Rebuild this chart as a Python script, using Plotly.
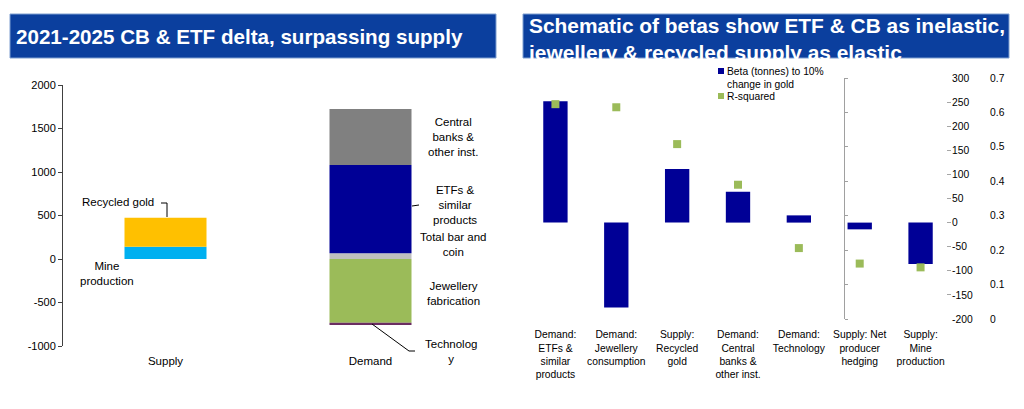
import plotly.graph_objects as go

# ---- data: left chart (tonnes, 2021-2025 delta) ----
left_cats = ["Supply", "Demand"]
left_series = ["Mine production", "Recycled gold", "Total bar and coin",
               "ETFs & similar products", "Central banks & other inst.",
               "Jewellery fabrication", "Technology"]
left_cat_of = ["Supply", "Supply", "Demand", "Demand", "Demand", "Demand", "Demand"]
left_values = [140, 335, 65, 1015, 645, -732, -28]
left_colors = ["#00B0F0", "#FFC000", "#BFBFBF", "#000096", "#808080", "#9BBB59", "#6B2D62"]
left_ticks = [-1000, -500, 0, 500, 1000, 1500, 2000]

# ---- data: right chart (betas) ----
beta_cats = ["Demand:<br>ETFs &<br>similar<br>products",
             "Demand:<br>Jewellery<br>consumption",
             "Supply:<br>Recycled<br>gold",
             "Demand:<br>Central<br>banks &<br>other inst.",
             "Demand:<br>Technology",
             "Supply: Net<br>producer<br>hedging",
             "Supply:<br>Mine<br>production"]
beta_values = [252, -176, 111, 64, 15, -14, -86]
r_squared = [0.624, 0.615, 0.508, 0.390, 0.206, 0.161, 0.150]
beta_ticks = [-200, -150, -100, -50, 0, 50, 100, 150, 200, 250, 300]
r2_ticks = [0, 0.1, 0.2, 0.3, 0.4, 0.5, 0.6, 0.7]

W, H = 1024, 409
OFF = 8  # page body margin
FONT = "Liberation Sans, Arial, sans-serif"
TITLE_BLUE = "#0B3F9E"


# screen pixel -> paper coords
def px(x):
    return (x - OFF) / W


def py(y):
    return 1 - (y - OFF) / H


fig = go.Figure()

# left stacked bars
for name, cat, val, col in zip(left_series, left_cat_of, left_values, left_colors):
    fig.add_trace(go.Bar(x=[cat], y=[val], name=name, marker_color=col,
                         marker_line_width=0, width=0.4,
                         xaxis="x", yaxis="y", showlegend=False))

# right bars + r-squared
fig.add_trace(go.Bar(x=list(range(len(beta_values))), y=beta_values,
                     name="Beta (tonnes) to 10% change in gold",
                     marker_color="#000096", marker_line_width=0, width=0.4,
                     xaxis="x2", yaxis="y2", showlegend=False))
fig.add_trace(go.Scatter(x=list(range(len(r_squared))), y=r_squared, mode="markers",
                         name="R-squared",
                         marker=dict(symbol="square", size=8, color="#9BBB59"),
                         xaxis="x2", yaxis="y3", showlegend=False))

tick_font = dict(family=FONT, size=11, color="#000000")
small_font = dict(family=FONT, size=10.3, color="#000000")

fig.update_layout(
    width=W, height=H,
    margin=dict(l=0, r=0, t=0, b=0, autoexpand=False),
    paper_bgcolor="white", plot_bgcolor="rgba(0,0,0,0)",
    barmode="relative",
    font=dict(family=FONT, size=11, color="#000000"),
    # left chart
    xaxis=dict(domain=[px(63), px(473)], type="category", range=[-0.5, 1.5],
               categoryorder="array", categoryarray=left_cats, automargin=False,
               showline=False, ticks="", showgrid=False, zeroline=False,
               tickfont=dict(family=FONT, size=11.5), ticklabelstandoff=6),
    yaxis=dict(domain=[py(346), py(85)], range=[-1000, 2000], automargin=False,
               tickvals=left_ticks, ticktext=[str(v) for v in left_ticks],
               showline=True, linecolor="#404040", linewidth=1,
               ticks="outside", ticklen=4, tickcolor="#404040",
               showgrid=False, zeroline=False, tickfont=tick_font),
    xaxis3=dict(overlaying="x", anchor="free", position=py(259), automargin=False,
                range=[-0.5, 1.5], tickvals=[0.5, 1.5], showticklabels=False,
                showline=True, linecolor="#A6A6A6", linewidth=1.2,
                ticks="outside", ticklen=4, tickcolor="#A6A6A6",
                showgrid=False, zeroline=False),
    # right chart
    xaxis2=dict(domain=[px(525), px(951)], anchor="y2", range=[-0.5, 6.5],
                tickvals=list(range(len(beta_cats))), ticktext=beta_cats,
                automargin=False, showline=False, ticks="", showgrid=False,
                zeroline=False, tickfont=small_font, ticklabelstandoff=8),
    yaxis2=dict(domain=[py(319), py(78)], anchor="x2", side="right",
                range=[-200, 300], automargin=False,
                tickvals=beta_ticks, ticktext=[str(v) for v in beta_ticks],
                showline=False, ticks="inside", ticklen=4, tickcolor="#A6A6A6",
                showgrid=False, zeroline=False, tickfont=small_font),
    xaxis4=dict(overlaying="x2", anchor="free", position=py(223), automargin=False,
                range=[-0.5, 6.5], tickvals=[0.5, 1.5, 2.5, 3.5, 4.5, 5.5],
                showticklabels=False, showline=True, linecolor="#A6A6A6",
                linewidth=1.2, ticks="outside", ticklen=4, tickcolor="#A6A6A6",
                showgrid=False, zeroline=False),
    # R-squared axis: its line sits inside the plot, its labels far right
    yaxis3=dict(overlaying="y2", anchor="free", side="right", position=px(844),
                range=[0, 0.7], automargin=False,
                tickvals=r2_ticks, ticktext=[("%g" % v) for v in r2_ticks],
                showline=True, linecolor="#A0A0A0", linewidth=1,
                ticks="outside", ticklen=3, tickcolor="#A0A0A0",
                ticklabelstandoff=140,
                showgrid=False, zeroline=False, tickfont=small_font),
)

# title bars
fig.add_shape(type="rect", xref="paper", yref="paper", layer="below",
              x0=px(10), x1=px(496), y0=py(58), y1=py(14),
              fillcolor=TITLE_BLUE, line=dict(color="#7F9FD0", width=1))
fig.add_shape(type="rect", xref="paper", yref="paper", layer="below",
              x0=px(523), x1=px(1009), y0=py(58), y1=py(14),
              fillcolor=TITLE_BLUE, line=dict(color="#7F9FD0", width=1))
fig.add_annotation(x=px(14), y=py(37), xref="paper", yref="paper",
                   xanchor="left", yanchor="middle", showarrow=False,
                   text="<b>2021-2025 CB & ETF delta, surpassing supply</b>",
                   font=dict(family=FONT, size=20.6, color="white"))
fig.add_annotation(x=px(526), y=py(39), xref="paper", yref="paper",
                   xanchor="left", yanchor="middle", showarrow=False, align="left",
                   text="<b>Schematic of betas show ETF & CB as inelastic,<br>"
                        "jewellery & recycled supply as elastic</b>",
                   font=dict(family=FONT, size=20.9, color="white"))

# left chart labels
lab_font = dict(family=FONT, size=11.5, color="#000000")
left_labels = [
    ("Recycled gold", 118, 202),
    ("Mine<br>production", 107, 273),
    ("Central<br>banks &<br>other inst.", 453, 137),
    ("ETFs &<br>similar<br>products", 455, 205),
    ("Total bar and<br>coin", 453, 245),
    ("Jewellery<br>fabrication", 453, 293),
    ("Technolog<br>y", 451, 351),
]
for txt, x, y in left_labels:
    fig.add_annotation(x=px(x), y=py(y), xref="paper", yref="paper",
                       xanchor="center", yanchor="middle", showarrow=False,
                       text=txt, font=lab_font, align="center")

# leader lines
for path in ["M {} {} L {} {} L {} {}".format(px(161), py(203), px(167), py(203), px(167), py(217)),
             "M {} {} L {} {}".format(px(412), py(206), px(419), py(205)),
             "M {} {} L {} {} L {} {}".format(px(372), py(324), px(409), py(351), px(415), py(351))]:
    fig.add_shape(type="path", xref="paper", yref="paper", path=path,
                  line=dict(color="#000000", width=1))

# right chart legend
leg_font = dict(family=FONT, size=10.3, color="#000000")
fig.add_shape(type="rect", xref="paper", yref="paper",
              x0=px(718), x1=px(724), y0=py(74), y1=py(68),
              fillcolor="#000096", line_width=0)
fig.add_shape(type="rect", xref="paper", yref="paper",
              x0=px(718), x1=px(724), y0=py(99), y1=py(93),
              fillcolor="#9BBB59", line_width=0)
fig.add_annotation(x=px(725), y=py(64), xref="paper", yref="paper",
                   xanchor="left", yanchor="top", showarrow=False, align="left",
                   text="Beta (tonnes) to 10%<br>change in gold", font=leg_font)
fig.add_annotation(x=px(725), y=py(96), xref="paper", yref="paper",
                   xanchor="left", yanchor="middle", showarrow=False, align="left",
                   text="R-squared", font=leg_font)

fig.write_html("out.html")
